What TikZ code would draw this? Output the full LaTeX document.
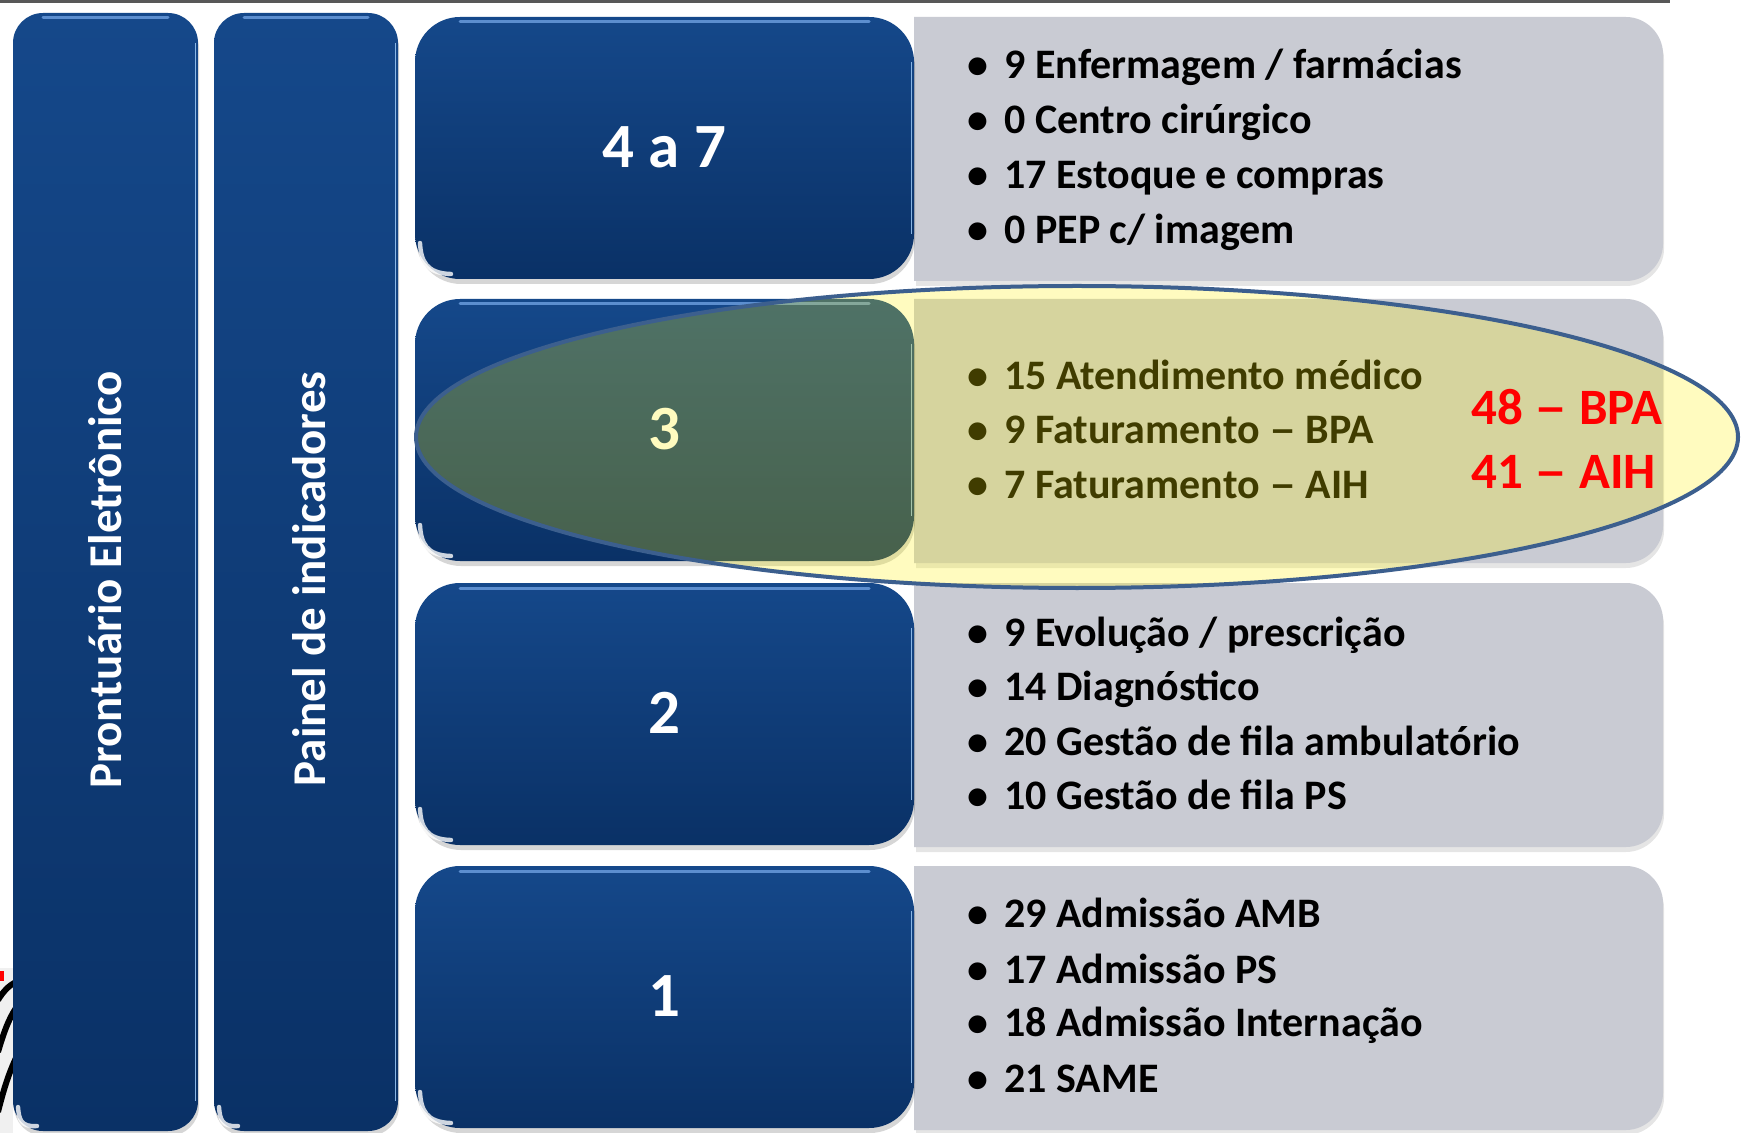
\documentclass[tikz,border=0pt]{standalone}
\usepackage{fontspec}
\setmainfont{Carlito}
\usetikzlibrary{shapes.geometric}
\definecolor{btop}{RGB}{21,72,138}
\definecolor{bbot}{RGB}{10,49,102}
\definecolor{gbox}{RGB}{201,203,211}
\definecolor{elline}{RGB}{60,95,142}
\definecolor{hltop}{RGB}{110,160,225}
\definecolor{hlside}{RGB}{150,195,240}
\definecolor{topline}{RGB}{88,88,88}
\tikzset{
  bshadow/.style={fill=black,opacity=0.16},
  blueshade/.style={top color=btop,bottom color=bbot},
  hlt/.style={draw=hltop,line width=1.5pt,line cap=round,opacity=0.8},
  hls/.style={draw=hlside,line width=0.8pt,opacity=0.9},
  crescent/.style={draw=white,line width=2.2pt,line cap=round,opacity=0.8},
  coltext/.style={text=white,font=\fontsize{23.5}{28}\selectfont\bfseries,inner sep=0pt,rotate=90},
  numtext/.style={text=white,font=\fontsize{31.5}{36}\selectfont\bfseries,inner sep=0pt},
  itemtext/.style={text=black,font=\fontsize{21}{25}\selectfont\bfseries,inner sep=0pt,anchor=base west},
  bullettext/.style={text=black,font=\fontsize{21}{25}\selectfont\bfseries,inner sep=0pt,anchor=base},
  redtext/.style={text=red,font=\fontsize{25.5}{30}\selectfont\bfseries,inner sep=0pt,anchor=base west},
}
\newcommand\wdash{\scalebox{1.3}[1]{–}}
% x1, y1, x2, y2, corner radius in pt
\newcommand\glossybox[5]{%
  \fill[bshadow,rounded corners=#5pt] (#1+1,#2+5) rectangle (#3+1,#4+5);
  \shade[blueshade,rounded corners=#5pt] (#1,#2) rectangle (#3,#4);
  \draw[hlt] (#1+2*#5,#2+5) -- (#3-2*#5,#2+5);
  \draw[hls] (#3-2.5,#2+2*#5) -- (#3-2.5,#4-2*#5);
  \draw[crescent] (#1+5,#4-1.6*#5) .. controls (#1+6,#4-0.8*#5) and (#1+0.5*#5,#4-0.25*#5) .. (#1+1.6*#5,#4-5);
}
% y1, y2 of a grey panel
\newcommand\greypanel[2]{%
  \fill[black,opacity=0.10] (916,#1+5) -- (1626,#1+5) .. controls (1646,#1+5) and (1664,#1+22) .. (1664,#1+42) -- (1664,#2-32) .. controls (1664,#2-12) and (1646,#2+5) .. (1626,#2+5) -- (916,#2+5) -- cycle;
  \fill[gbox] (914,#1) -- (1626,#1) .. controls (1646,#1) and (1663,#1+17) .. (1663,#1+37) -- (1663,#2-37) .. controls (1663,#2-17) and (1646,#2) .. (1626,#2) -- (914,#2) -- cycle;
}
\newcommand\listline[3]{%
  \node[bullettext] (#1b) at (978,#2) {•};
  \node[itemtext] (#1) at (1004,#2) {#3};
}
\begin{document}
\begin{tikzpicture}[x=0.5pt,y=-0.5pt]
\useasboundingbox (0,0) rectangle (1744,1133);
\fill[white] (0,0) rectangle (1744,1133);
% top rule
\coordinate (tl) at (0,1.5);
\coordinate (tr) at (1670,1.5);
\draw[topline,line width=1.6pt] (tl) -- (tr);
% cut-off picture at the lower left
\begin{scope}
  \clip (0,955) rectangle (13,1133);
  \fill[gray!12] (0,968) rectangle (13,1133);
  \fill[red] (0,971) rectangle (4,981);
  \draw[black,line width=3pt] (16,982) .. controls (8,986) and (3,992) .. (-2,1000);
  \draw[black,line width=3pt] (16,1008) .. controls (8,1020) and (3,1035) .. (-2,1052);
  \draw[black,line width=3pt] (16,1058) .. controls (8,1075) and (3,1092) .. (-2,1112);
\end{scope}
% left columns
\glossybox{13}{13}{198}{1131}{15}
\glossybox{214}{13}{398}{1131}{15}
\node[coltext] (pe) at (105.5,580) {Prontuário Eletrônico};
\node[coltext] (pi) at (309.5,579) {Painel de indicadores};
% grey panels
\greypanel{17}{281}
\greypanel{299}{563}
\greypanel{583}{847}
\greypanel{866}{1130}
% blue level boxes
\glossybox{415}{17}{914}{279}{22.5}
\glossybox{415}{299}{914}{561}{22.5}
\glossybox{415}{583}{914}{845}{22.5}
\glossybox{415}{866}{914}{1128}{22.5}
\node[numtext] (n47) at (664.5,147) {4 a 7};
\node[numtext] (n3) at (664.5,429) {3};
\node[numtext] (n2) at (664.5,713) {2};
\node[numtext] (n1) at (664.5,996) {1};
% lists
\listline{a1}{79}{9 Enfermagem / farmácias}
\listline{a2}{134}{0 Centro cirúrgico}
\listline{a3}{189}{17 Estoque e compras}
\listline{a4}{244}{0 PEP c/ imagem}
\listline{b1}{390}{15 Atendimento médico}
\listline{b2}{444}{9 Faturamento \wdash{} BPA}
\listline{b3}{499}{7 Faturamento \wdash{} AIH}
\listline{c1}{646}{9 Evolução / prescrição}
\listline{c2}{700}{14 Diagnóstico}
\listline{c3}{755}{20 Gestão de fila ambulatório}
\listline{c4}{809}{10 Gestão de fila PS}
\listline{d1}{927}{29 Admissão AMB}
\listline{d2}{983}{17 Admissão PS}
\listline{d3}{1036}{18 Admissão Internação}
\listline{d4}{1092}{21 SAME}
% highlight ellipse
\node[ellipse,draw=elline,line width=2pt,fill=yellow,fill opacity=0.25,
      minimum width=661pt,minimum height=151pt,inner sep=0pt] (hl) at (1077,437) {};
\node[redtext] (bpa) at (1471,425) {48 \wdash{} BPA};
\node[redtext] (aih) at (1471,488) {41 \wdash{} AIH};
\end{tikzpicture}
\end{document}
